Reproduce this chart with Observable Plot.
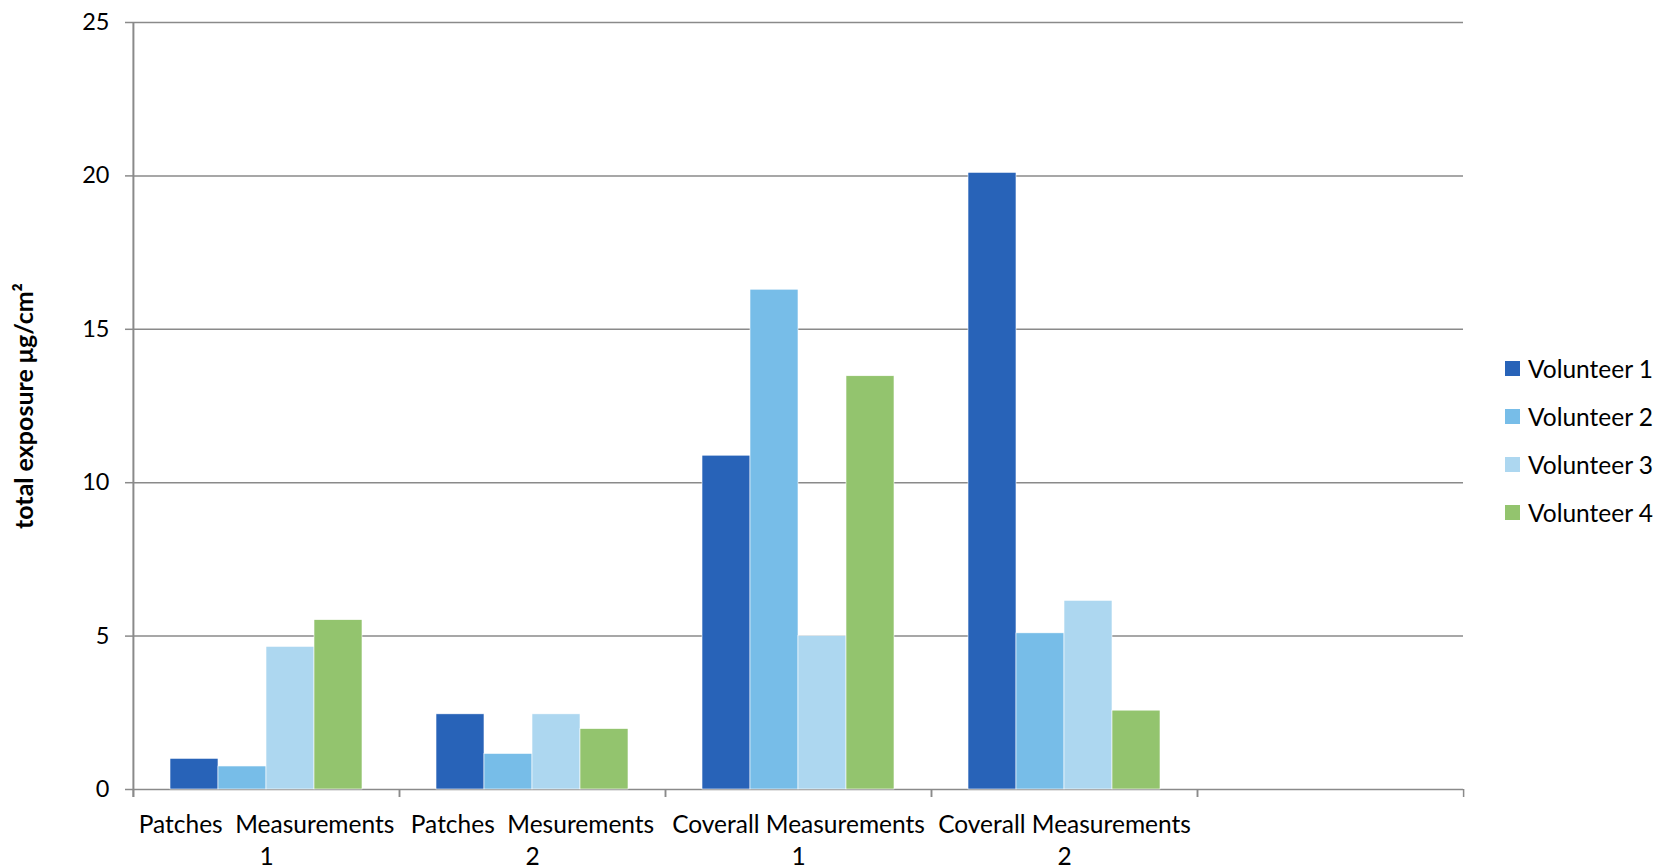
<!DOCTYPE html>
<html>
<head>
<meta charset="utf-8">
<script src="https://cdn.jsdelivr.net/npm/d3@7"></script>
<script src="https://cdn.jsdelivr.net/npm/@observablehq/plot@0.6"></script>
<style>
  html, body { margin: 0; padding: 0; background: #fff; }
  #wrap { position: relative; width: 1659px; height: 866px; font-family: Lato, "Open Sans", sans-serif; }
  #wrap svg text { white-space: pre; }
  #wrap svg [aria-label="y-axis label"] text { font-weight: bold; font-size: 25px; }
  #legend { position: absolute; left: 1505px; top: 344px; }
  .row { display: flex; align-items: center; height: 48px; margin: 0; font-size: 24.5px; color: #000; }
  .sw { width: 15px; height: 15px; margin-right: 8px; flex: none; }
</style>
</head>
<body>
<div id="wrap"></div>
<script>
const categories = ["Patches  Measurements\n1", "Patches  Mesurements\n2", "Coverall Measurements\n1", "Coverall Measurements\n2", " "];
const series = ["Volunteer 1", "Volunteer 2", "Volunteer 3", "Volunteer 4"];
const volunteer1 = [1.0, 2.45, 10.88, 20.1];
const volunteer2 = [0.75, 1.16, 16.29, 5.09];
const volunteer3 = [4.65, 2.45, 5.0, 6.15];
const volunteer4 = [5.52, 1.97, 13.47, 2.57];
const colors = ["#2863b8", "#77bde8", "#add7f0", "#93c46e"];
const yTicks = [0, 5, 10, 15, 20, 25];
const yLabel = "total exposure μg/cm²";

const seriesValues = [volunteer1, volunteer2, volunteer3, volunteer4];
const data = [];
seriesValues.forEach((vals, si) => {
  vals.forEach((v, ci) => data.push({category: categories[ci], series: series[si], value: v}));
});
const gridData = categories.flatMap(c => yTicks.map(t => ({category: c, tick: t})));

const W = 1659, H = 866, ML = 132, MR = 196, MT = 22, MB = 77;
const step = (W - ML - MR) / categories.length;
const gray = "#8a8a8a";

const chart = Plot.plot({
  width: W,
  height: H,
  marginLeft: ML,
  marginRight: MR,
  marginTop: MT,
  marginBottom: MB,
  style: {fontFamily: "Lato, 'Open Sans', sans-serif", background: "#fff", color: "#000"},
  fx: {domain: categories, padding: 0, label: null},
  x: {domain: series, paddingInner: 0, paddingOuter: 0.75, axis: null},
  y: {domain: [0, 25], label: null},
  color: {domain: series, range: colors},
  marks: [
    Plot.ruleY(gridData, {fx: "category", y: "tick", stroke: gray, strokeWidth: 1.5}),
    Plot.barY(data, {fx: "category", x: "series", y: "value", fill: "series", stroke: "#fff", strokeWidth: 0.6}),
    Plot.ruleX([categories[0]], {fx: d => d, x: null, dx: -step / 2, insetBottom: -8, stroke: gray, strokeWidth: 2}),
    Plot.axisY({ticks: yTicks, tickSize: 8, tickPadding: 16, fontSize: 23.5, stroke: gray, strokeWidth: 1.5,
      label: yLabel, labelAnchor: "center", labelOffset: 118, labelArrow: "none"}),
    Plot.axisFx({anchor: "bottom", tickSize: 0, tickPadding: 21, fontSize: 24.5, lineHeight: 1.3, label: null}),
    Plot.axisFx({anchor: "bottom", tickSize: 8, tickFormat: () => "", dx: -step / 2, stroke: gray, strokeWidth: 1.5, label: null}),
    Plot.axisFx({anchor: "bottom", tickSize: 8, tickFormat: () => "", dx: step / 2, stroke: gray, strokeWidth: 1.5, label: null})
  ]
});

document.getElementById("wrap").appendChild(chart);

const legend = document.createElement("div");
legend.id = "legend";
series.forEach((s, i) => {
  const row = document.createElement("div");
  row.className = "row";
  const sw = document.createElement("span");
  sw.className = "sw";
  sw.style.background = colors[i];
  const t = document.createElement("span");
  t.textContent = s;
  row.appendChild(sw);
  row.appendChild(t);
  legend.appendChild(row);
});
document.getElementById("wrap").appendChild(legend);
</script>
</body>
</html>
